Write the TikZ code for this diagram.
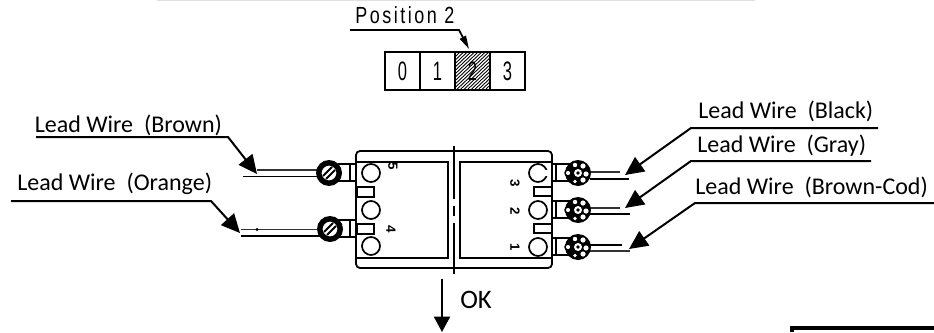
\documentclass[tikz,border=0pt]{standalone}
\usepackage{fontspec}
\setmainfont{Carlito}
\newfontfamily\cadfont[LetterSpace=14]{Liberation Sans}
\usetikzlibrary{arrows.meta}
\tikzset{
  x=0.75pt,y=-0.75pt,
  leader/.style={line width=1.5pt,-{Triangle[length=14pt,width=13pt]}},
  leadlabel/.style={anchor=base west,inner sep=0pt,font=\fontsize{18pt}{21pt}\selectfont},
  wire/.style={line width=1.4pt},
  thinwire/.style={line width=1pt,black!80},
  body/.style={line width=1.35pt},
  cell/.style={draw,line width=1.4pt,minimum width=26.25pt,minimum height=28.5pt,inner sep=0pt,anchor=north west},
  digit/.style={inner sep=0pt,font=\cadfont\fontsize{20pt}{20pt}\selectfont},
  pin/.style={draw,line width=1.3pt,circle,minimum size=13.5pt,inner sep=0pt},
  pinlabel/.style={inner sep=0pt,font=\cadfont\bfseries\fontsize{10pt}{10pt}\selectfont},
  lugbox/.style={line width=1.6pt},
}
\newcommand{\slothead}[2]{%
  \fill (#1,#2) circle[radius=13];
  \fill[white] (#1,#2) circle[radius=8];
  \draw[line width=1.5pt] (#1-6,#2+3) -- (#1+3,#2-6);
  \draw[line width=1.5pt] (#1-3,#2+6) -- (#1+6,#2-3);
  \draw[line width=1.6pt] (#1,#2) circle[radius=8.5];
}
\newcommand{\crosshead}[2]{%
  \fill (#1,#2) circle[radius=13];
  \fill[white] (#1+5,#2-7) circle[radius=2.6];
  \fill[white] (#1-3,#2-8) circle[radius=2.2];
  \fill[white] (#1+8,#2+1) circle[radius=2.6];
  \fill[white] (#1+5,#2+7) circle[radius=2.6];
  \fill[white] (#1-3,#2+8.5) circle[radius=1.8];
  \fill[white] (#1,#2) circle[radius=4];
  \fill (#1,#2) circle[radius=1.8];
  \draw[line width=1.1pt,fill=white] (#1-10,#2) circle[radius=3];
}
\begin{document}
\begin{tikzpicture}
\useasboundingbox (0,0) rectangle (934,332);
% top and bottom margins
\draw[black!12,line width=0.9pt] (157,0.5) -- (755,0.5);
\draw[line width=2.4pt] (934,328) -- (792,328) -- (792,332);

% position selector
\node[anchor=base west,inner sep=0pt,font=\cadfont\fontsize{17.5pt}{17.5pt}\selectfont] (postext) at (355,23) {\scalebox{0.77}[1]{Position 2}};
\coordinate (posa) at (350,30);
\coordinate (posb) at (459,30);
\coordinate (posc) at (469,49);
\draw[line width=1.3pt,-{Triangle[length=10pt,width=5pt]}] (posa) -- (posb) -- (posc);
\node[cell] (c0) at (384,51) {};
\node[cell] (c1) at (419,51) {};
\node[cell] (c2) at (454,51) {};
\node[cell] (c3) at (489,51) {};
\begin{scope}
  \clip (454,51) rectangle (489,89);
  \foreach \k in {0,3.6,...,80}{\draw[line width=0.65pt] (454+\k-40,89) -- (454+\k,51);}
\end{scope}
\node[cell] at (454,51) {};
\foreach \n/\d in {c0/0,c1/1,c2/2,c3/3}{\node[digit] at (\n.center) {\scalebox{0.62}[1]{\d}};}

% body
\draw[body,rounded corners=3pt] (356,151) rectangle (552,268);
\draw[body] (356,162) -- (448,162) -- (448,258) -- (356,258);
\draw[body] (552,162) -- (460,162) -- (460,258) -- (552,258);
\draw[line width=1.1pt] (454,146) -- (454,199);
\draw[line width=1.1pt] (454,206) -- (454,216);
\draw[line width=1.1pt] (454,223) -- (454,274);
% pins
\node[pin] (p5) at (371,173) {};
\node[pin] (p4) at (371,210) {};
\node[pin] (p0) at (371,246) {};
\node[pin] (p3) at (538,173) {};
\fill[white] (544,170) rectangle (549,176);
\node[pin] (p2) at (538,210) {};
\node[pin] (p1) at (538,247) {};
% slots
\draw[body] (357,187) rectangle (374,197);
\draw[body] (357,224) rectangle (374,234);
\draw[body] (534,187) rectangle (552,196);
\draw[body] (534,224) rectangle (552,233);
% pin numbers
\node[pinlabel,rotate=-90] at (393,166) {5};
\node[pinlabel,rotate=-90] at (391,229) {4};
\node[pinlabel,rotate=-90] at (515,183) {3};
\node[pinlabel,rotate=-90] at (515,211) {2};
\node[pinlabel,rotate=-90] at (515,247) {1};

% lugs, left
\foreach \y in {173,229}{
  \draw[lugbox] (338,\y-9) -- (356,\y-9);
  \draw[lugbox] (338,\y+8) -- (356,\y+8);
  \draw[lugbox] (350,\y-9) -- (350,\y+8);
}
% lugs, right
\foreach \y in {173,210,247}{
  \draw[lugbox] (553,\y-9) -- (575,\y-9);
  \draw[lugbox] (553,\y+8) -- (575,\y+8);
  \draw[lugbox] (556,\y-9) -- (556,\y+8);
}
% wires, left
\draw[thinwire] (257,170) -- (320,170);
\draw[wire] (243,176.5) -- (320,176.5);
\draw[thinwire] (241,229.5) -- (320,229.5);
\fill (257,229.5) circle[radius=1.6];
\draw[wire] (241,236) -- (320,236);
% wires, right
\draw[thinwire] (590,172) -- (620,172);
\draw[wire] (590,179) -- (629,179);
\draw[thinwire] (590,208) -- (620,208);
\draw[wire] (590,214) -- (630,214);
\draw[wire] (590,245) -- (622,245);
\draw[thinwire] (590,251) -- (630,251);
% screw heads
\slothead{329}{173}
\slothead{330}{229}
\crosshead{578}{173}
\crosshead{578}{210}
\crosshead{578}{247}

% leader labels and arrows
\node[leadlabel] (lb) at (34.5,132) {Lead Wire\ \ (Brown)};
\node[leadlabel] (lo) at (17,190) {Lead Wire\ \ (Orange)};
\node[leadlabel] (lk) at (698,118) {Lead Wire\ \ (Black)};
\node[leadlabel] (lg) at (697,152) {Lead Wire\ \ (Gray)};
\node[leadlabel] (lc) at (695,194) {Lead Wire\ \ (Brown-Cod)};

\coordinate (ba) at (36,137); \coordinate (bb) at (228,137); \coordinate (bc) at (257,174);
\coordinate (oa) at (11,201); \coordinate (ob) at (211,201); \coordinate (oc) at (240,233);
\coordinate (ka) at (878,128); \coordinate (kb) at (691,128); \coordinate (kc) at (625,175);
\coordinate (ga) at (871,161); \coordinate (gb) at (691,161); \coordinate (gc) at (625,208);
\coordinate (ca) at (934,203); \coordinate (cb) at (695,203); \coordinate (cc) at (629,249);
\foreach \p/\q/\r in {ba/bb/bc,oa/ob/oc,ka/kb/kc,ga/gb/gc,ca/cb/cc}{
  \draw[leader] (\p) -- (\q) -- (\r);
}

% OK arrow
\coordinate (oks) at (442,279);
\coordinate (oke) at (442,332);
\draw[line width=1.4pt,-{Triangle[length=11.5pt,width=12pt]}] (oks) -- (oke);
\node[anchor=base west,inner sep=0pt,font=\fontsize{20pt}{22pt}\selectfont] (ok) at (460,308) {OK};
\end{tikzpicture}
\end{document}
